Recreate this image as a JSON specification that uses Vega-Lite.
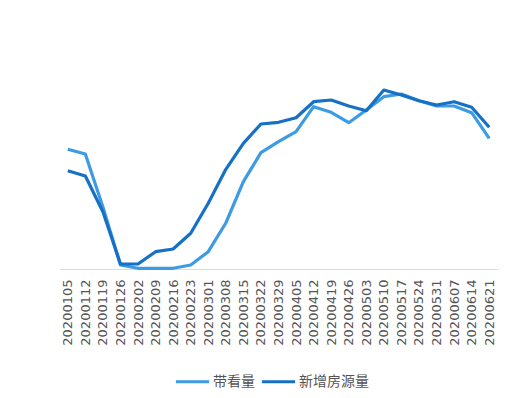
{
  "$schema": "https://vega.github.io/schema/vega-lite/v6.json",
  "width": 439,
  "height": 240,
  "autosize": {"type": "none"},
  "padding": {"left": 59, "top": 29, "right": 27, "bottom": 129},
  "background": "white",
  "data": {
    "values": [
      {"date": "20200105", "series": "带看量", "v": 119.7},
      {"date": "20200112", "series": "带看量", "v": 115},
      {"date": "20200119", "series": "带看量", "v": 62},
      {"date": "20200126", "series": "带看量", "v": 4},
      {"date": "20200202", "series": "带看量", "v": 0.7},
      {"date": "20200209", "series": "带看量", "v": 0.7},
      {"date": "20200216", "series": "带看量", "v": 0.7},
      {"date": "20200223", "series": "带看量", "v": 4},
      {"date": "20200301", "series": "带看量", "v": 17.3},
      {"date": "20200308", "series": "带看量", "v": 46},
      {"date": "20200315", "series": "带看量", "v": 87.3},
      {"date": "20200322", "series": "带看量", "v": 116.3},
      {"date": "20200329", "series": "带看量", "v": 127.3},
      {"date": "20200405", "series": "带看量", "v": 137.3},
      {"date": "20200412", "series": "带看量", "v": 162.3},
      {"date": "20200419", "series": "带看量", "v": 156.7},
      {"date": "20200426", "series": "带看量", "v": 146.3},
      {"date": "20200503", "series": "带看量", "v": 159},
      {"date": "20200510", "series": "带看量", "v": 172.3},
      {"date": "20200517", "series": "带看量", "v": 175},
      {"date": "20200524", "series": "带看量", "v": 168.3},
      {"date": "20200531", "series": "带看量", "v": 163},
      {"date": "20200607", "series": "带看量", "v": 163},
      {"date": "20200614", "series": "带看量", "v": 156.3},
      {"date": "20200621", "series": "带看量", "v": 130.7},
      {"date": "20200105", "series": "新增房源量", "v": 98.3},
      {"date": "20200112", "series": "新增房源量", "v": 93},
      {"date": "20200119", "series": "新增房源量", "v": 57.3},
      {"date": "20200126", "series": "新增房源量", "v": 5},
      {"date": "20200202", "series": "新增房源量", "v": 5},
      {"date": "20200209", "series": "新增房源量", "v": 17.3},
      {"date": "20200216", "series": "新增房源量", "v": 20},
      {"date": "20200223", "series": "新增房源量", "v": 35.7},
      {"date": "20200301", "series": "新增房源量", "v": 65.7},
      {"date": "20200308", "series": "新增房源量", "v": 99.7},
      {"date": "20200315", "series": "新增房源量", "v": 125.7},
      {"date": "20200322", "series": "新增房源量", "v": 145},
      {"date": "20200329", "series": "新增房源量", "v": 146.7},
      {"date": "20200405", "series": "新增房源量", "v": 151.3},
      {"date": "20200412", "series": "新增房源量", "v": 167.3},
      {"date": "20200419", "series": "新增房源量", "v": 169},
      {"date": "20200426", "series": "新增房源量", "v": 163},
      {"date": "20200503", "series": "新增房源量", "v": 158.3},
      {"date": "20200510", "series": "新增房源量", "v": 179},
      {"date": "20200517", "series": "新增房源量", "v": 174},
      {"date": "20200524", "series": "新增房源量", "v": 168.3},
      {"date": "20200531", "series": "新增房源量", "v": 164},
      {"date": "20200607", "series": "新增房源量", "v": 167.3},
      {"date": "20200614", "series": "新增房源量", "v": 161.7},
      {"date": "20200621", "series": "新增房源量", "v": 141.7}
    ]
  },
  "mark": {"type": "line", "strokeWidth": 3.2, "strokeJoin": "round"},
  "encoding": {
    "x": {
      "field": "date",
      "type": "ordinal",
      "scale": {"type": "point", "padding": 0.5},
      "axis": {
        "title": null,
        "labelAngle": -90,
        "labelFont": "DejaVu Sans",
        "labelFontSize": 13,
        "labelColor": "#555555",
        "labelPadding": 10,
        "ticks": false,
        "domainColor": "#dddddd",
        "grid": false
      }
    },
    "y": {
      "field": "v",
      "type": "quantitative",
      "scale": {"domain": [0, 240]},
      "axis": null
    },
    "color": {
      "field": "series",
      "type": "nominal",
      "sort": ["带看量", "新增房源量"],
      "scale": {"domain": ["带看量", "新增房源量"], "range": ["#3d9be4", "#1570c6"]},
      "legend": {
        "title": null,
        "orient": "none",
        "legendX": 115,
        "legendY": 334,
        "direction": "horizontal",
        "symbolType": "stroke",
        "symbolStrokeWidth": 3.2,
        "symbolSize": 1100,
        "labelFont": "Noto Sans CJK SC",
        "labelFontSize": 14,
        "labelColor": "#555555",
        "labelOffset": 2,
        "columnPadding": 0
      }
    }
  },
  "config": {"view": {"stroke": null}}
}
